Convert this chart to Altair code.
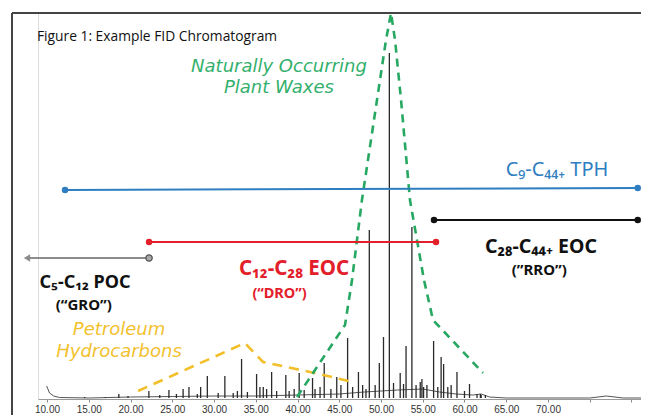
import altair as alt
import pandas as pd

# ---------------- data (retention time in minutes, detector response in arbitrary units) ----
peak_rt = [22.2, 24.6, 26.3, 27.0, 28.4, 29.2, 31.3, 32.3, 33.3, 35.1, 35.5, 35.9, 36.3, 36.9,
           38.6, 40.2, 41.8, 42.1, 43.2, 44.7, 46.0, 47.3, 47.8, 48.6, 49.8, 50.3, 51.0, 52.3,
           53.0, 53.7, 54.7, 55.1, 56.3, 57.2, 57.5, 58.4, 59.1, 60.6, 61.5, 61.9, 62.5,
           14.5, 17.0, 18.6, 19.7, 23.5, 25.5, 28.0, 30.5, 32.8, 34.0, 37.5, 39.0, 39.6, 40.8,
           42.7, 44.0, 45.2, 46.6, 48.2, 49.3, 51.5, 52.7, 54.2, 54.9, 55.5, 56.8, 58.0, 60.0, 62.0]
peak_height = [8, 9, 10, 12, 12, 23, 23, 6, 40, 25, 12, 12, 10, 27,
               24, 26, 21, 10, 36, 22, 61, 27, 14, 169, 36, 62, 346, 26,
               53, 172, 17, 12, 58, 42, 35, 14, 27, 15, 5, 5, 4,
               2, 2, 5, 3, 4, 5, 5, 6, 8, 7, 8, 8, 10, 9,
               12, 10, 14, 12, 10, 14, 16, 15, 14, 20, 14, 12, 12, 8, 4]

base_rt = [9.96, 10.3, 10.8, 11.5, 15, 20, 25, 30, 35, 40, 45, 48, 52, 55, 57, 59, 61, 62, 63,
           65, 70, 75, 77, 79, 81.5]
base_level = [13, 6, 3, 1.5, 1, 2, 2.5, 3, 3, 4, 5, 7, 9, 10, 7, 5, 4, 5, 2,
              1, 1, 1, 3, 1, 1]

# hydrocarbon range bars: name, start, end, level at start, level at end
range_name = ["TPH", "RRO", "DRO", "GRO"]
range_start = [12.16, 56.35, 22.22, 22.22]
range_end = [80.75, 80.75, 56.59, 7.6]
range_level_start = [209, 179, 157, 141]
range_level_end = [211, 179, 157, 141]
range_color = ["#2f7ec1", "#111111", "#e3202a", "#8c8c8c"]

# envelope outlines
wax_rt = [39.94, 45.69, 46.53, 47.72, 49.52, 50.60, 51.20, 51.68, 52.40, 53.47, 55.15, 56.23, 62.22]
wax_level = [2, 74, 119, 199, 299, 359, 386, 359, 299, 199, 119, 79, 26]
petro_rt = [20.90, 33.71, 35.87, 41.50, 46.65]
petro_level = [8, 56, 37, 27, 17]

tick_values = [10, 12.5, 15, 17.5, 20, 22.5, 25, 27.5, 30, 32.5, 35, 37.5, 40, 42.5, 45, 47.5,
               50, 52.5, 55, 57.5, 60, 62.5, 65, 67.5, 70, 72.5, 75, 77.5, 80]

# text annotations
label_text = ["Figure 1: Example FID Chromatogram", "Naturally Occurring", "Plant Waxes",
              "Petroleum", "Hydrocarbons", "C₉-C₄₄₊ TPH", "C₂₈-C₄₄₊ EOC", "(”RRO”)",
              "C₁₂-C₂₈ EOC", "(“DRO”)", "C₅-C₁₂ POC", "(“GRO”)"]
label_rt = [8.80, 37.78, 37.78, 18.62, 18.62, 71.08, 69.16, 68.96, 39.58, 37.85, 14.55, 14.40]
label_level = [362, 332, 311, 69, 47, 229, 152, 129, 130, 105, 116, 94]

# ---------------- chart ----------------
XDOM = [8.92, 81.14]
x_scale = alt.Scale(domain=XDOM, nice=False, zero=False)
y_scale = alt.Scale(domain=[0, 386], nice=False, zero=False)

base_df = pd.DataFrame({"rt": base_rt, "level": base_level})
peaks_df = pd.DataFrame({"rt": peak_rt, "h": peak_height})
ranges_df = pd.DataFrame({"name": range_name, "x1": range_start, "x2": range_end,
                          "y1": range_level_start, "y2": range_level_end, "color": range_color})
wax_df = pd.DataFrame({"rt": wax_rt, "level": wax_level, "order": list(range(len(wax_rt)))})
petro_df = pd.DataFrame({"rt": petro_rt, "level": petro_level, "order": list(range(len(petro_rt)))})
labels_df = pd.DataFrame({"text": label_text, "rt": label_rt, "level": label_level})

axis_x = alt.Axis(values=tick_values, title=None, grid=False,
                  labelExpr="datum.value % 5 == 0 && datum.value <= 70 ? format(datum.value, '.2f') : ''",
                  domainColor="#9a9a9a", tickColor="#8a8a8a", tickSize=3,
                  labelFontSize=10, labelColor="#333333", labelFont="Liberation Sans",
                  labelPadding=2, labelFlush=False)

baseline = alt.Chart(base_df).mark_line(color="#555555", strokeWidth=1).encode(
    x=alt.X("rt:Q", scale=x_scale, axis=axis_x),
    y=alt.Y("level:Q", scale=y_scale, axis=None),
)

peaks = alt.Chart(peaks_df).mark_rule(color="#2a2a2a", strokeWidth=1.3).encode(
    x=alt.X("rt:Q", scale=x_scale),
    y=alt.Y("h:Q", scale=y_scale),
    y2=alt.datum(1),
)

wax = alt.Chart(wax_df).mark_line(color="#27a862", strokeWidth=2.6, strokeDash=[8, 6]).encode(
    x=alt.X("rt:Q", scale=x_scale), y=alt.Y("level:Q", scale=y_scale), order="order:Q")

petro = alt.Chart(petro_df).mark_line(color="#f2bf2a", strokeWidth=2.6, strokeDash=[10, 7]).encode(
    x=alt.X("rt:Q", scale=x_scale), y=alt.Y("level:Q", scale=y_scale), order="order:Q")

color_scale = alt.Scale(domain=range_name, range=range_color)

range_lines = alt.Chart(ranges_df).mark_rule(strokeWidth=2).encode(
    x=alt.X("x1:Q", scale=x_scale), x2="x2:Q",
    y=alt.Y("y1:Q", scale=y_scale), y2="y2:Q",
    color=alt.Color("name:N", scale=color_scale, legend=None),
)

dot_end = alt.Chart(ranges_df).transform_filter("datum.name != 'GRO'").mark_circle(size=42, opacity=1).encode(
    x=alt.X("x2:Q", scale=x_scale), y=alt.Y("y2:Q", scale=y_scale),
    color=alt.Color("name:N", scale=color_scale, legend=None),
)
dot_start = alt.Chart(ranges_df).transform_filter("datum.name != 'GRO'").mark_circle(size=42, opacity=1).encode(
    x=alt.X("x1:Q", scale=x_scale), y=alt.Y("y1:Q", scale=y_scale),
    color=alt.Color("name:N", scale=color_scale, legend=None),
)
gro_dot = alt.Chart(ranges_df).transform_filter("datum.name == 'GRO'").mark_point(
    shape="circle", size=40, filled=True, fill="#a9a9a9", stroke="#555555", strokeWidth=1.3, opacity=1).encode(
    x=alt.X("x1:Q", scale=x_scale), y=alt.Y("y1:Q", scale=y_scale))
gro_arrow = alt.Chart(ranges_df).transform_filter("datum.name == 'GRO'").mark_point(
    shape="triangle-left", size=55, filled=True, color="#8c8c8c", opacity=1).encode(
    x=alt.X("x2:Q", scale=x_scale), y=alt.Y("y2:Q", scale=y_scale))


def txt(idx, **kw):
    return alt.Chart(labels_df.iloc[idx:idx + 1]).mark_text(**kw).encode(
        x=alt.X("rt:Q", scale=x_scale), y=alt.Y("level:Q", scale=y_scale), text="text:N")


texts = [
    txt(0, align="left", baseline="middle", font="Open Sans", fontSize=13.8, color="#111111"),
    txt(1, align="center", baseline="middle", font="DejaVu Sans", fontStyle="italic", fontSize=18, color="#33b06c"),
    txt(2, align="center", baseline="middle", font="DejaVu Sans", fontStyle="italic", fontSize=18, color="#33b06c"),
    txt(3, align="center", baseline="middle", font="DejaVu Sans", fontStyle="italic", fontSize=18, color="#f2c12e"),
    txt(4, align="center", baseline="middle", font="DejaVu Sans", fontStyle="italic", fontSize=18, color="#f2c12e"),
    txt(5, align="center", baseline="middle", font="Noto Sans", fontSize=20, color="#2f7ec1"),
    txt(6, align="center", baseline="middle", font="Noto Sans", fontWeight="bold", fontSize=19.5, color="#111111"),
    txt(7, align="center", baseline="middle", font="Noto Sans", fontWeight="bold", fontSize=15, color="#111111"),
    txt(8, align="center", baseline="middle", font="Noto Sans", fontWeight="bold", fontSize=20.5, color="#e3202a"),
    txt(9, align="center", baseline="middle", font="Noto Sans", fontWeight="bold", fontSize=14.5, color="#e3202a"),
    txt(10, align="center", baseline="middle", font="Noto Sans", fontWeight="bold", fontSize=18, color="#111111"),
    txt(11, align="center", baseline="middle", font="Noto Sans", fontWeight="bold", fontSize=15, color="#111111"),
]

# figure frame (left and top edges of the figure box)
frame_left = alt.Chart(base_df).mark_rule(color="#444444", strokeWidth=1.5).encode(
    x=alt.value(-26), y=alt.value(0), y2=alt.value(420))
frame_top = alt.Chart(base_df).mark_rule(color="#444444", strokeWidth=1.5).encode(
    x=alt.value(-26), x2=alt.value(615), y=alt.value(0))

chart = alt.layer(
    frame_left, frame_top, baseline, peaks, petro, wax, range_lines, dot_start, dot_end,
    gro_dot, gro_arrow, *texts
).properties(
    width=603, height=386,
    autosize=alt.AutoSizeParams(type="none"),
    padding={"left": 30, "top": 5, "right": 0, "bottom": 30},
).configure_view(stroke=None).configure(background="white")

chart.save("out.html", embed_options={"renderer": "svg", "actions": False})
